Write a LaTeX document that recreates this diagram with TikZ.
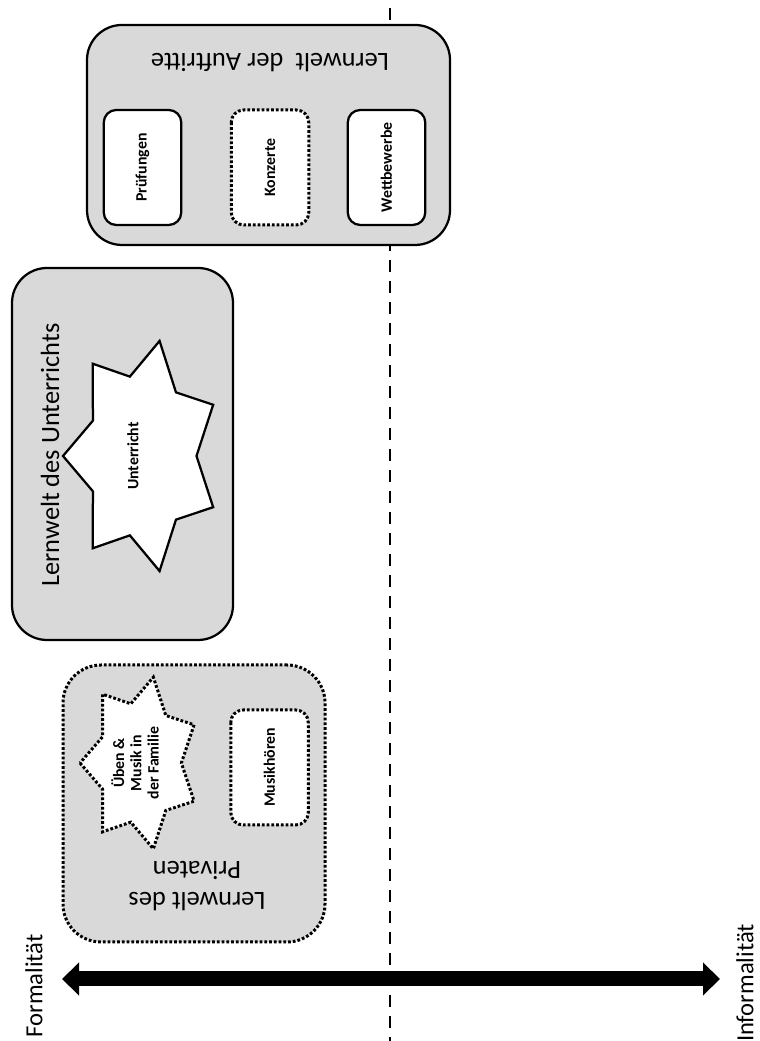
\documentclass[tikz,border=0pt]{standalone}
\usepackage{fontspec}
\setmainfont{Carlito}
\definecolor{weltgrau}{RGB}{217,217,217}
\usetikzlibrary{shapes.geometric,arrows.meta}

\begin{document}
\begin{tikzpicture}[
  welt/.style={draw=black, line width=0.045cm, rounded corners=0.7cm, fill=weltgrau},
  weltpunkt/.style={welt, line width=0.06cm, dash pattern=on 0.055cm off 0.04cm},
  ort/.style={draw=black, line width=0.045cm, rounded corners=0.25cm, fill=white, rotate=90, minimum width=2.3cm, minimum height=1.55cm, inner sep=0pt, font=\fontsize{9}{10}\selectfont\bfseries},
  ortpunkt/.style={ort, line width=0.06cm, dash pattern=on 0.055cm off 0.04cm},
  stern/.style={star, star points=7, star point ratio=1.45, draw=black, line width=0.045cm, fill=white, inner sep=0pt, rotate=90},
  sternpunkt/.style={stern, line width=0.06cm, dash pattern=on 0.055cm off 0.04cm},
  klein/.style={font=\fontsize{9}{9.8}\selectfont\bfseries, align=center, rotate=90},
  titel/.style={font=\fontsize{15}{18}\selectfont, align=center},
  achse/.style={font=\fontsize{14}{17}\selectfont, rotate=90},
  trenn/.style={line width=0.055cm, dash pattern=on 0.25cm off 0.17cm},
  pfeil/.style={line width=0.3cm, {Triangle[length=0.34cm,width=0.64cm]}-{Triangle[length=0.34cm,width=0.64cm]}}
]
\path[use as bounding box, fill=white] (0,0) rectangle (15.18,20.82);

% Trennlinie
\coordinate (oben) at (7.80,20.66);
\coordinate (unten) at (7.80,0);
\draw[trenn] (oben) -- (unten);

% Lernwelt der Auftritte
\node[welt, minimum width=7.26cm, minimum height=4.40cm] (auftritte) at (5.37,18.12) {};
\node[titel, rotate=180] (auftritteTitel) at (5.40,19.56) {Lernwelt\ \ der Auftritte};
\node[ort] (pruefungen) at (2.85,17.47) {Prüfungen};
\node[ortpunkt] (konzerte) at (5.40,17.47) {Konzerte};
\node[ort] (wettbewerbe) at (7.73,17.47) {Wettbewerbe};

% Lernwelt des Unterrichts
\node[welt, minimum width=4.42cm, minimum height=7.44cm] (unterricht) at (2.45,11.74) {};
\node[titel, rotate=90] (unterrichtTitel) at (1.00,11.72) {Lernwelt des Unterrichts};
\node[stern, minimum size=3.16cm, xscale=1.494] (unterrichtStern) at (2.84,11.70) {};
\node[klein] (unterrichtText) at (2.66,11.70) {Unterricht};

% Lernwelt des Privaten
\node[weltpunkt, minimum width=5.24cm, minimum height=5.54cm, rounded corners=0.76cm] (privat) at (3.88,4.75) {};
\node[titel, rotate=180] (privatTitel) at (3.94,3.10) {Lernwelt des\\Privaten};
\node[sternpunkt, minimum size=2.40cm, xscale=1.467] (familie) at (2.80,5.56) {};
\node[klein] (familieText) at (2.70,5.56) {Üben \&\\Musik in\\der Familie};
\node[ortpunkt] (musikhoeren) at (5.39,5.47) {Musikhören};

% Achse
\coordinate (links) at (1.24,1.24);
\coordinate (rechts) at (14.40,1.24);
\draw[pfeil] (links) -- (rechts);
\node[achse] (formal) at (0.68,1.10) {Formalität};
\node[achse] (informal) at (14.90,1.16) {Informalität};
\end{tikzpicture}
\end{document}
